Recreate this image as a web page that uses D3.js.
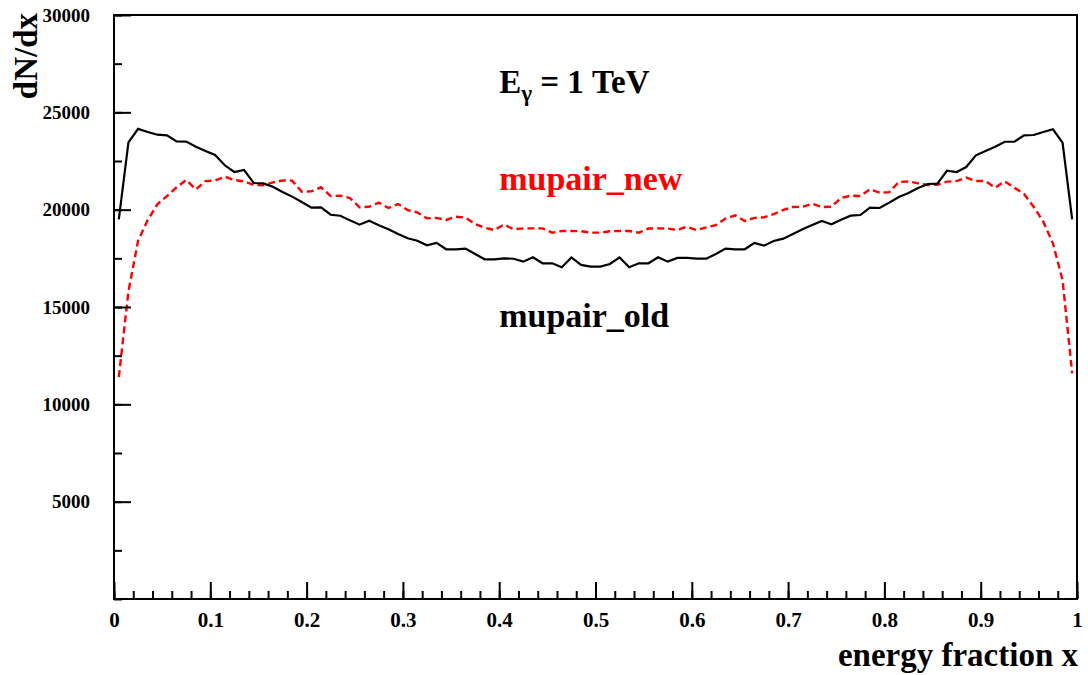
<!DOCTYPE html>
<html>
<head>
<meta charset="utf-8">
<script src="https://cdn.jsdelivr.net/npm/d3@7"></script>
<style>
  body { margin: 0; background: #fff; }
  text { font-family: "Liberation Serif", "Times New Roman", serif; font-weight: bold; }
</style>
</head>
<body>
<script>
// histogram, 100 bins on [0,1]
var nBins = 100;
var xDomain = [0, 1];
var yDomain = [0, 30000];

var oldCounts = [
  19500, 23460, 24150, 23990, 23850, 23820, 23510, 23500, 23235, 23010,
  22810, 22280, 21935, 22040, 21370, 21350, 21180, 20910, 20670, 20390,
  20100, 20120, 19740, 19690, 19450, 19230, 19435, 19200, 18990, 18750,
  18530, 18405, 18170, 18290, 17965, 17965, 18000, 17720, 17450, 17450,
  17500, 17480, 17330, 17550, 17245, 17245, 17040, 17550, 17160, 17075,
  17075, 17210, 17550, 17040, 17245, 17245, 17550, 17330, 17520, 17520,
  17485, 17485, 17720, 18000, 17965, 17965, 18290, 18150, 18390, 18510,
  18750, 18990, 19210, 19420, 19245, 19485, 19690, 19725, 20100, 20085,
  20360, 20650, 20855, 21110, 21320, 21335, 22000, 21935, 22190, 22790,
  23010, 23235, 23490, 23490, 23820, 23835, 23990, 24130, 23440, 19500
];

var newCounts = [
  11400, 15800, 18400, 19470, 20275, 20700, 21150, 21525, 21045, 21470,
  21500, 21695, 21525, 21455, 21265, 21250, 21400, 21500, 21490, 20925,
  20940, 21150, 20700, 20720, 20600, 20120, 20150, 20360, 20085, 20290,
  19980, 19860, 19555, 19580, 19470, 19640, 19590, 19265, 19070, 18955,
  19240, 18990, 19040, 19040, 19040, 18820, 18905, 18905, 18890, 18820,
  18820, 18890, 18905, 18905, 18820, 19030, 19040, 19030, 18955, 19125,
  18955, 19090, 19210, 19540, 19710, 19420, 19580, 19605, 19775, 19985,
  20135, 20150, 20305, 20135, 20150, 20600, 20720, 20700, 21045, 20875,
  20900, 21420, 21450, 21350, 21265, 21280, 21440, 21470, 21645, 21470,
  21470, 21130, 21450, 21130, 20805, 20150, 19385, 18270, 16390, 11590
];

var xMajor = d3.range(0, 11).map(function(i) { return i / 10; });
var xMinor = d3.range(0, 51).map(function(i) { return i / 50; });
var yMajor = [5000, 10000, 15000, 20000, 25000, 30000];
var yMinor = d3.range(0, 13).map(function(i) { return i * 2500; });

var w = 1088, h = 675;
var margin = { top: 15, right: 11, bottom: 76, left: 114 };
var pw = w - margin.left - margin.right;
var ph = h - margin.top - margin.bottom;

var binW = (xDomain[1] - xDomain[0]) / nBins;
var centers = d3.range(nBins).map(function(i) { return xDomain[0] + (i + 0.5) * binW; });

var xScale = d3.scaleLinear().domain(xDomain).range([0, pw]);
var yScale = d3.scaleLinear().domain(yDomain).range([ph, 0]);

var svg = d3.select("body").append("svg")
  .attr("width", w)
  .attr("height", h);

var g = svg.append("g")
  .attr("transform", "translate(" + margin.left + "," + margin.top + ")");

// curves
var line = d3.line()
  .x(function(d, i) { return xScale(centers[i]); })
  .y(function(d) { return yScale(d); });

g.append("path")
  .datum(newCounts)
  .attr("d", line)
  .attr("fill", "none")
  .attr("stroke", "#ff0000")
  .attr("stroke-width", 2.4)
  .attr("stroke-dasharray", "7,4");

g.append("path")
  .datum(oldCounts)
  .attr("d", line)
  .attr("fill", "none")
  .attr("stroke", "#000")
  .attr("stroke-width", 2.2);

// axes: minor then major
function styleAxis(sel) {
  sel.select(".domain").remove();
  sel.selectAll(".tick line").attr("stroke", "#000").attr("stroke-width", 2);
}

g.append("g")
  .attr("transform", "translate(0," + ph + ")")
  .call(d3.axisTop(xScale).tickValues(xMinor).tickSize(8).tickFormat(""))
  .call(styleAxis);

var xAx = g.append("g")
  .attr("transform", "translate(0," + ph + ")")
  .call(d3.axisTop(xScale).tickValues(xMajor).tickSize(17).tickFormat(function(d) { return d3.format("")(+d.toFixed(1)); }))
  .call(styleAxis);
xAx.selectAll("text")
  .attr("y", 28)
  .attr("dy", null)
  .attr("fill", "#000")
  .style("font-size", "21px");

g.append("g")
  .call(d3.axisRight(yScale).tickValues(yMinor).tickSize(8).tickFormat(""))
  .call(styleAxis);

var yAx = g.append("g")
  .call(d3.axisRight(yScale).tickValues(yMajor).tickSize(17).tickFormat(d3.format("d")))
  .call(styleAxis);
yAx.selectAll("text")
  .attr("x", -24)
  .attr("text-anchor", "end")
  .attr("fill", "#000")
  .style("font-size", "19px");

// frame
g.append("rect")
  .attr("x", 0).attr("y", 0)
  .attr("width", pw).attr("height", ph)
  .attr("fill", "none")
  .attr("stroke", "#000")
  .attr("stroke-width", 2);

// titles
svg.append("text")
  .attr("transform", "translate(37,13) rotate(-90)")
  .attr("text-anchor", "end")
  .style("font-size", "33px")
  .text("dN/dx");

svg.append("text")
  .attr("x", margin.left + pw + 1)
  .attr("y", 666)
  .attr("text-anchor", "end")
  .style("font-size", "33px")
  .text("energy fraction x");

// annotations
var ann = g.append("text")
  .attr("x", xScale(0.4))
  .attr("y", yScale(26000))
  .style("font-size", "33px");
ann.append("tspan").text("E");
ann.append("tspan").attr("dy", 8).style("font-size", "23px").text("\u03b3");
ann.append("tspan").attr("dy", -8).text(" = 1 TeV");

g.append("text")
  .attr("x", xScale(0.4))
  .attr("y", yScale(21000))
  .attr("fill", "#ff0000")
  .style("font-size", "34px")
  .text("mupair_new");

g.append("text")
  .attr("x", xScale(0.4))
  .attr("y", yScale(13970))
  .style("font-size", "34px")
  .text("mupair_old");
</script>
</body>
</html>
